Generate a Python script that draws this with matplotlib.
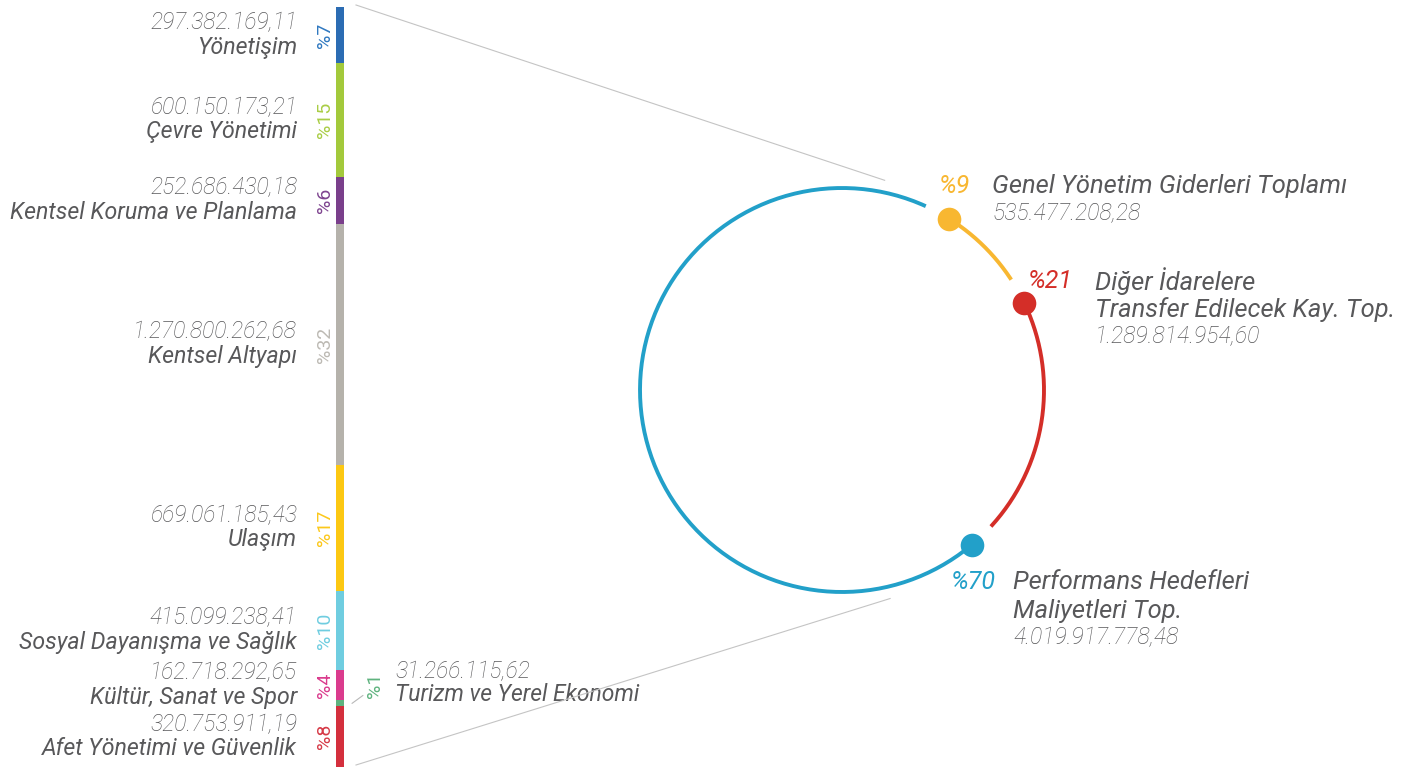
import numpy as np
import matplotlib
matplotlib.use("Agg")
import matplotlib.pyplot as plt

# left bar: programme areas (TL)
areas = ["Yönetişim", "Çevre Yönetimi", "Kentsel Koruma ve Planlama", "Kentsel Altyapı",
         "Ulaşım", "Sosyal Dayanışma ve Sağlık", "Kültür, Sanat ve Spor",
         "Turizm ve Yerel Ekonomi", "Afet Yönetimi ve Güvenlik"]
area_values = [297382169.11, 600150173.21, 252686430.18, 1270800262.68,
               669061185.43, 415099238.41, 162718292.65, 31266115.62, 320753911.19]
area_value_labels = ["297.382.169,11", "600.150.173,21", "252.686.430,18", "1.270.800.262,68",
                     "669.061.185,43", "415.099.238,41", "162.718.292,65", "31.266.115,62",
                     "320.753.911,19"]
area_pct = ["%7", "%15", "%6", "%32", "%17", "%10", "%4", "%1", "%8"]
area_colors = ["#2b6cb3", "#a3c93b", "#7a3f8b", "#b5b2ab", "#fcc812",
               "#6fcde0", "#da3b8d", "#5fb37f", "#d42f3d"]
pct_colors = ["#2f78c0", "#a9cd45", "#7f4590", "#bdbab4", "#fcc81a",
              "#6fcde0", "#da3b8d", "#5fb37f", "#d63a47"]

# right ring: budget totals
ring_names = [["Genel Yönetim Giderleri Toplamı"],
              ["Diğer İdarelere", "Transfer Edilecek Kay. Top."],
              ["Performans Hedefleri", "Maliyetleri Top."]]
ring_value_labels = ["535.477.208,28", "1.289.814.954,60", "4.019.917.778,48"]
ring_pct = [9, 21, 70]
ring_colors = ["#f8b731", "#d42e28", "#22a0c9"]

W, H = 1415, 769
FONT = ["Roboto", "DejaVu Sans"]
TXT = "#58585a"

fig = plt.figure(figsize=(W / 100, H / 100), dpi=100)

# ---- left stacked bar ----
total = sum(area_values)
bar_top, bar_bot = 7, 767
axb = fig.add_axes([0, (H - bar_bot) / H, 1, (bar_bot - bar_top) / H])
axb.set_xlim(0, W)
axb.set_ylim(total, 0)
axb.axis("off")

bottoms = np.concatenate([[0], np.cumsum(area_values)[:-1]])
axb.bar(np.full(len(area_values), 340.0), area_values, bottom=bottoms, width=8,
        color=area_colors, linewidth=0)

for i, (name, val, pct) in enumerate(zip(areas, area_value_labels, area_pct)):
    mid = bottoms[i] + area_values[i] / 2
    if name.startswith("Turizm"):
        axb.annotate(pct, (375, mid), xytext=(0, 18), textcoords="offset pixels",
                     rotation=90, ha="center", va="center", fontsize=14,
                     color=pct_colors[i], family=FONT)
        axb.annotate(val, (395, mid), xytext=(0, 32), textcoords="offset pixels",
                     ha="left", va="center", fontsize=16.5, style="italic",
                     fontweight="light", color=TXT, family=FONT)
        axb.annotate(name, (395, mid), xytext=(0, 9), textcoords="offset pixels",
                     ha="left", va="center", fontsize=16.5, style="italic",
                     color=TXT, family=FONT)
        axb.annotate("", xy=(352, mid), xytext=(11, 8), textcoords="offset pixels",
                     arrowprops=dict(arrowstyle="-", color="#b8b8b8", lw=0.8,
                                     shrinkA=0, shrinkB=0))
        continue
    axb.text(325, mid, pct, rotation=90, ha="center", va="center", fontsize=14,
             color=pct_colors[i], family=FONT)
    axb.annotate(val, (297, mid), xytext=(0, 12.5), textcoords="offset pixels",
                 ha="right", va="center", fontsize=16.5, style="italic",
                 fontweight="light", color=TXT, family=FONT)
    axb.annotate(name, (297, mid), xytext=(0, -12), textcoords="offset pixels",
                 ha="right", va="center", fontsize=16.7, style="italic",
                 color=TXT, family=FONT)

# ---- right ring ----
ax = fig.add_axes([0, 0, 1, 1])
ax.set_xlim(0, W)
ax.set_ylim(H, 0)
ax.axis("off")

cx, cy, R = 842, 390, 202
gap = 7.5
start = 58.0
starts = start - 360 * np.concatenate([[0], np.cumsum(ring_pct)[:-1]]) / 100

for i, a0 in enumerate(starts):
    span = 360 * ring_pct[i] / 100
    t = np.radians(np.linspace(a0, a0 - span + gap, 200))
    ax.plot(cx + R * np.cos(t), cy - R * np.sin(t), color=ring_colors[i], lw=2.8,
            solid_capstyle="butt", zorder=2)
    t0 = np.radians(a0)
    ax.plot(cx + R * np.cos(t0), cy - R * np.sin(t0), "o", ms=17,
            color=ring_colors[i], mec="none", zorder=3)

# guide lines from the bar ends to the ring
for ang, yb in [(78.5, 5), (-77, 765)]:
    t = np.radians(ang)
    ax.plot([356, cx + (R + 12) * np.cos(t)], [yb, cy - (R + 12) * np.sin(t)],
            color="#c4c4c4", lw=0.8, zorder=1)

# ring labels
label_pos = [(970, 992, 186), (1073, 1095, 281), (996, 1013, 582)]
for i, (px, nx, y0) in enumerate(label_pos):
    ax.text(px, y0, f"%{ring_pct[i]}", ha="right", va="center", fontsize=18,
            style="italic", color=ring_colors[i], family=FONT)
    lines = ring_names[i]
    for j, ln in enumerate(lines):
        ax.text(nx, y0 + 29 * j, ln, ha="left", va="center", fontsize=18.4,
                style="italic", color=TXT, family=FONT)
    ax.text(nx, y0 + 29 * (len(lines) - 1) + 27, ring_value_labels[i], ha="left",
            va="center", fontsize=16.6, style="italic", fontweight="light",
            color=TXT, family=FONT)

fig.savefig("out.png", dpi=100, facecolor="white")
